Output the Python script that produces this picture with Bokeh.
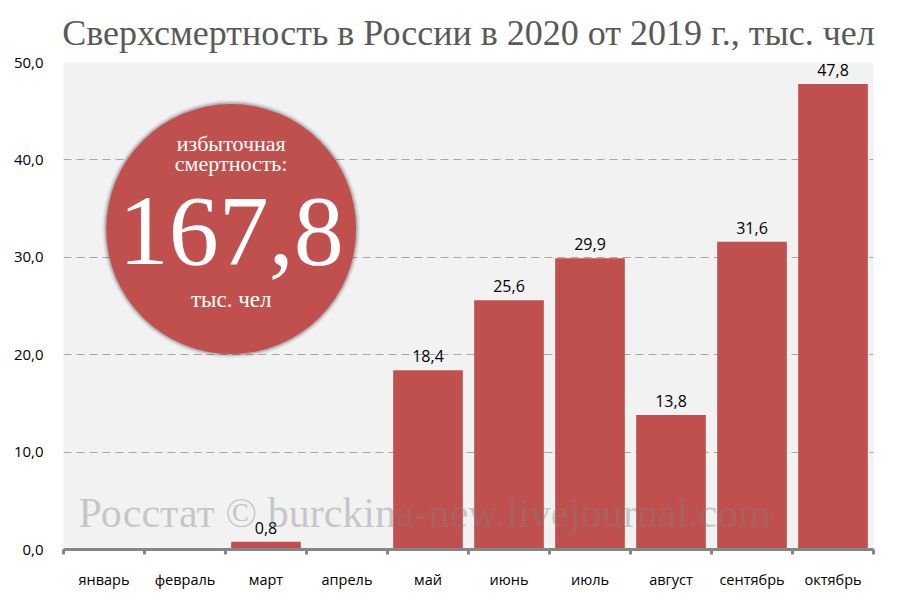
import numpy as np
from bokeh.plotting import figure
from bokeh.models import FixedTicker, ColumnDataSource, Title
from bokeh.core.properties import value
from bokeh.embed import file_html
from bokeh.resources import INLINE

months = ["январь", "февраль", "март", "апрель", "май", "июнь", "июль", "август", "сентябрь", "октябрь"]
excess = [0.0, 0.0, 0.8, 0.0, 18.4, 25.6, 29.9, 13.8, 31.6, 47.8]
shown = [False, False, True, False, True, True, True, True, True, True]
y_ticks = [0, 10, 20, 30, 40, 50]
total_value = "167,8"
title_text = "Сверхсмертность в России в 2020 от 2019 г., тыс. чел"
watermark = "Росстат © burckina-new.livejournal.com"

BAR = "#c0504d"
SERIF = "Liberation Serif"
SANS = "Open Sans"

xs = np.arange(len(months)) + 0.5
src = ColumnDataSource(dict(x=xs, top=excess))
lab = ColumnDataSource(dict(
    x=[x for x, s in zip(xs, shown) if s],
    y=[v for v, s in zip(excess, shown) if s],
    t=[f"{v:.1f}".replace(".", ",") for v, s in zip(excess, shown) if s],
))

p = figure(width=900, height=603, output_backend="svg", toolbar_location=None,
           x_range=(0, len(months)), y_range=(0, 50))
p.min_border_left = 63
p.min_border_right = 27
p.min_border_bottom = 54
p.min_border_top = 62
p.background_fill_color = "#f2f2f2"
p.border_fill_color = "white"
p.outline_line_color = None

t = Title(text=title_text, text_font=SERIF, text_font_size="36px", text_color="#595959",
          text_font_style="normal", align="center", offset=0, standoff=20)
p.add_layout(t, "above")

p.xgrid.grid_line_color = None
p.ygrid.grid_line_color = "#a6a6a6"
p.ygrid.grid_line_dash = "8 5"
p.ygrid.grid_line_width = 1
p.ygrid.ticker = FixedTicker(ticks=y_ticks)

p.vbar(x="x", top="top", width=0.86, source=src, fill_color=BAR, line_color=None)

# circle shadow + circle
cx, cy = 2.07, 32.9
for s, a in [(258, 0.06), (255, 0.09), (253, 0.12)]:
    p.scatter([cx], [cy], size=s, marker="circle", fill_color="black", fill_alpha=a, line_color=None)
p.scatter([cx], [cy], size=250, marker="circle", fill_color=BAR, line_color=None)

p.text(x=[cx], y=[cy], text=["избыточная"], text_font=value(SERIF), text_font_size="22px",
       text_color="white", text_align="center", text_baseline="middle", y_offset=-86)
p.text(x=[cx], y=[cy], text=["смертность:"], text_font=value(SERIF), text_font_size="22px",
       text_color="white", text_align="center", text_baseline="middle", y_offset=-66)
p.text(x=[cx], y=[cy], text=[total_value], text_font=value(SERIF), text_font_size="100px",
       text_color="white", text_align="center", text_baseline="middle", y_offset=2)
p.text(x=[cx], y=[cy], text=["тыс. чел"], text_font=value(SERIF), text_font_size="23px",
       text_color="white", text_align="center", text_baseline="middle", y_offset=70)

p.text(x="x", y="y", text="t", source=lab, text_font=value(SANS), text_font_size="16px",
       text_color="black", text_align="center", text_baseline="bottom", y_offset=-8)

p.text(x=[4.46], y=[3.7], text=[watermark], text_font=value(SERIF),
       text_font_size="42px", text_color="#7f7f7f", text_alpha=0.38,
       text_align="center", text_baseline="middle")

xa = p.xaxis[0]
xa.ticker = FixedTicker(ticks=list(xs), minor_ticks=list(range(len(months) + 1)))
xa.major_label_overrides = {float(x): m for x, m in zip(xs, months)}
xa.major_tick_line_color = None
xa.minor_tick_line_color = "#868686"
xa.minor_tick_line_width = 3
xa.minor_tick_out = 5
xa.minor_tick_in = 0
xa.axis_line_color = "#868686"
xa.axis_line_width = 3
xa.major_label_text_font = SANS
xa.major_label_text_font_size = "14.5px"
xa.major_label_text_color = "black"
xa.major_label_standoff = 14

ya = p.yaxis[0]
ya.ticker = FixedTicker(ticks=y_ticks)
ya.major_label_overrides = {v: f"{v:.1f}".replace(".", ",") for v in y_ticks}
ya.axis_line_color = None
ya.major_tick_line_color = None
ya.minor_tick_line_color = None
ya.major_label_text_font = SANS
ya.major_label_text_font_size = "15px"
ya.major_label_text_color = "black"
ya.major_label_standoff = 14

open("out.html", "w").write(file_html(p, INLINE))
